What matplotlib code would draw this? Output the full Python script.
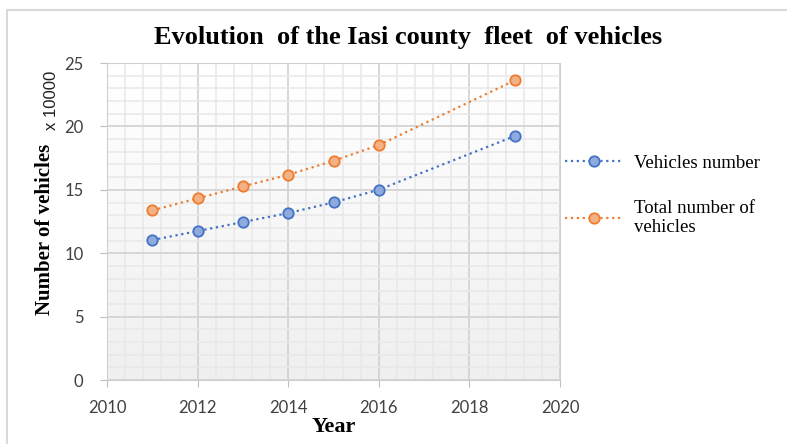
import numpy as np
import matplotlib.pyplot as plt
from matplotlib.patches import Rectangle
from matplotlib.ticker import MultipleLocator

years = [2011, 2012, 2013, 2014, 2015, 2016, 2019]
vehicles = [11.04, 11.75, 12.46, 13.17, 14.01, 15.01, 19.24]
total_vehicles = [13.38, 14.33, 15.27, 16.19, 17.29, 18.53, 23.63]

fig = plt.figure(figsize=(7.87, 4.44), dpi=100)
ax = fig.add_axes([0.136, 0.144, 0.5756, 0.714])

# outer frame
fig.patches.append(Rectangle((0.009, -0.01), 1.0, 0.988, transform=fig.transFigure,
                             fill=False, edgecolor='#d9d9d9', linewidth=1.5))

# gradient background (white on top -> light grey at bottom)
grad = np.linspace(0.935, 1.0, 256).reshape(-1, 1)
ax.imshow(grad, extent=[0, 1, 0, 1], transform=ax.transAxes, cmap='gray',
          vmin=0, vmax=1, aspect='auto', origin='lower', zorder=0)

ax.set_xlim(2010, 2020)
ax.set_ylim(0, 25)
ax.xaxis.set_major_locator(MultipleLocator(2))
ax.xaxis.set_minor_locator(MultipleLocator(0.4))
ax.yaxis.set_major_locator(MultipleLocator(5))
ax.yaxis.set_minor_locator(MultipleLocator(1))
ax.grid(which='major', color='#d4d4d4', linewidth=1.3, zorder=1)
ax.grid(which='minor', color='#e8e8e8', linewidth=1.1, zorder=1)
ax.set_axisbelow(True)

for s in ax.spines.values():
    s.set_color('#d0d0d0')
ax.tick_params(which='major', colors='#bfbfbf', length=5, labelcolor='#404040',
               labelsize=12)
ax.tick_params(axis='x', pad=9)
ax.tick_params(axis='y', pad=12)
ax.tick_params(which='minor', length=0)
for lab in ax.get_xticklabels() + ax.get_yticklabels():
    lab.set_family('Lato')

ax.plot(years, vehicles, linestyle=':', color='#4472c4', linewidth=1.6,
        marker='o', markersize=7.5, markerfacecolor='#8faadc',
        markeredgecolor='#4472c4', markeredgewidth=1.3, label='Vehicles number', zorder=3)
ax.plot(years, total_vehicles, linestyle=':', color='#ed7d31', linewidth=1.6,
        marker='o', markersize=7.5, markerfacecolor='#f4b183',
        markeredgecolor='#ed7d31', markeredgewidth=1.3,
        label='Total number of\nvehicles', zorder=3)

fig.text(0.518, 0.915, 'Evolution  of the Iasi county  fleet  of vehicles',
         ha='center', va='center', family='Liberation Serif', weight='bold', fontsize=19)
ax.set_xlabel('Year', family='Liberation Serif', weight='bold', fontsize=16, labelpad=1)
fig.text(0.057, 0.484, 'Number of vehicles', rotation=90, ha='center', va='center',
         family='Liberation Serif', weight='bold', fontsize=15)
fig.text(0.066, 0.775, 'x 10000', rotation=90, ha='center', va='center',
         family='Liberation Sans', fontsize=12, color='#202020')

fig.legend(loc='upper left', bbox_to_anchor=(0.697, 0.69), frameon=False,
           prop={'family': 'Liberation Serif', 'size': 13.5}, handlelength=3.0,
           labelspacing=1.5, handletextpad=0.65)

fig.savefig('out.png', dpi=100)
